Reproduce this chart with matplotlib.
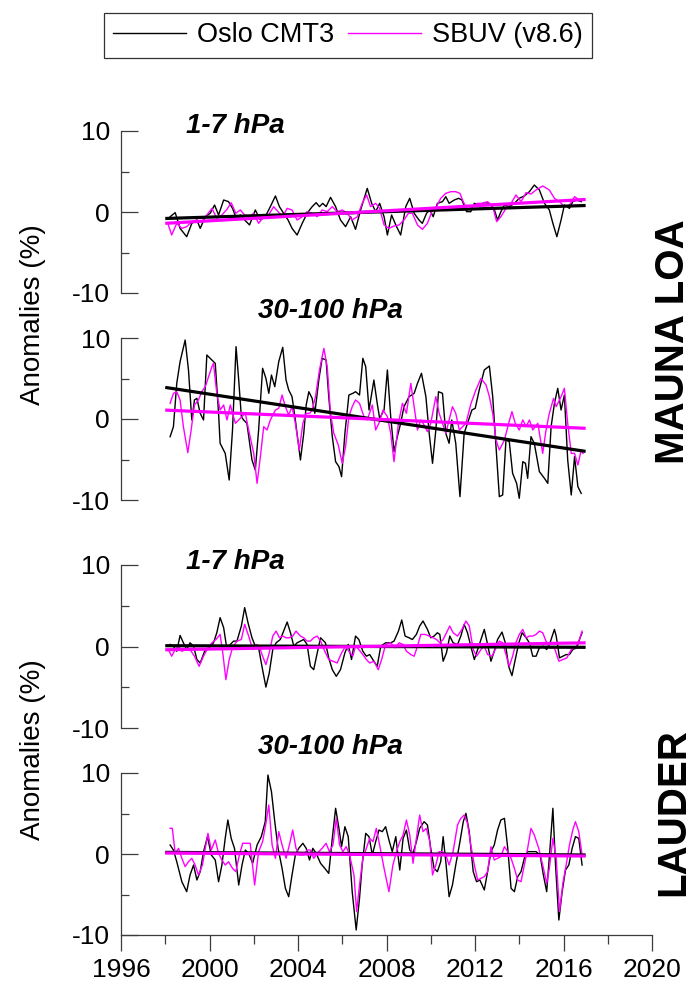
import numpy as np
import matplotlib
matplotlib.use("Agg")
from matplotlib import pyplot as plt
from matplotlib.ticker import MultipleLocator
from matplotlib.lines import Line2D

########################################################################
# data (decimal year, anomaly in %)
########################################################################

# Mauna Loa, 1-7 hPa
mlo_up_oslo_t = [1998.22, 1998.45, 1998.67, 1998.97, 1999.20, 1999.43, 1999.58, 1999.81, 2000.03, 2000.23,
                 2000.41, 2000.64, 2000.86, 2001.04, 2001.24, 2001.39, 2001.59, 2001.81, 2002.07, 2002.30,
                 2002.52, 2002.75, 2002.98, 2003.16, 2003.35, 2003.55, 2003.73, 2003.96, 2004.19, 2004.41,
                 2004.64, 2004.82, 2004.97, 2005.12, 2005.27, 2005.47, 2005.70, 2005.92, 2006.15, 2006.38,
                 2006.60, 2006.83, 2007.13, 2007.33, 2007.51, 2007.69, 2007.89, 2008.04, 2008.23, 2008.42,
                 2008.64, 2008.87, 2009.05, 2009.25, 2009.47, 2009.62, 2009.81, 2009.96, 2010.11, 2010.30,
                 2010.53, 2010.68, 2010.83, 2011.06, 2011.26, 2011.41, 2011.62, 2011.81, 2011.97, 2012.19,
                 2012.42, 2012.65, 2012.87, 2013.02, 2013.17, 2013.33, 2013.55, 2013.78, 2014.00, 2014.23,
                 2014.46, 2014.68, 2014.91, 2015.14, 2015.36, 2015.52, 2015.70, 2015.89, 2016.04, 2016.27,
                 2016.42, 2016.60, 2016.80]
mlo_up_oslo_v = [-0.58, -0.08, -2.02, -3.05, -1.40, -0.99, -2.02, -0.58, -0.16, 0.86,
                 -0.37, 1.48, 1.28, 0.45, -0.99, -0.37, -0.99, -1.60, 0.25, -0.99,
                 -0.58, 0.66, 1.98, 0.66, -0.16, -0.99, -2.02, -2.84, -1.40, -0.16,
                 0.66, 1.15, 0.66, 1.07, 0.66, 1.81, 0.66, -0.99, -1.81, -0.58,
                 -2.14, 0.25, 2.92, 1.07, 0.04, 1.07, -0.58, -2.84, -0.37, -1.60,
                 -2.84, 0.66, 1.69, -0.16, -0.99, -1.40, -0.16, 0.25, -0.58, 1.07,
                 1.28, 1.89, 1.07, 1.48, 1.69, 1.48, 0.04, 0.04, 1.07, 0.86,
                 1.15, 1.07, 0.33, -0.99, 0.04, 0.86, 0.66, 1.07, 1.69, 1.98,
                 2.51, 3.33, 2.72, 1.07, 0.25, -1.40, -3.05, -0.99, 0.86, 0.45,
                 1.28, 1.48, 1.28]
mlo_up_sbuv_t = [1998.14, 1998.29, 1998.52, 1998.75, 1998.97, 1999.20, 1999.43, 1999.65, 1999.88, 2000.11,
                 2000.33, 2000.56, 2000.79, 2000.98, 2001.19, 2001.39, 2001.59, 2001.80, 2001.99, 2002.22,
                 2002.45, 2002.67, 2002.90, 2003.10, 2003.31, 2003.51, 2003.73, 2003.96, 2004.19, 2004.41,
                 2004.64, 2004.87, 2005.09, 2005.32, 2005.55, 2005.77, 2006.00, 2006.23, 2006.45, 2006.68,
                 2006.90, 2007.10, 2007.28, 2007.51, 2007.69, 2007.89, 2008.11, 2008.34, 2008.57, 2008.79,
                 2008.99, 2009.17, 2009.40, 2009.62, 2009.85, 2010.05, 2010.26, 2010.45, 2010.68, 2010.91,
                 2011.13, 2011.32, 2011.47, 2011.66, 2011.89, 2012.12, 2012.34, 2012.57, 2012.80, 2012.98,
                 2013.17, 2013.40, 2013.63, 2013.85, 2014.08, 2014.31, 2014.53, 2014.76, 2015.06, 2015.36,
                 2015.59, 2015.82, 2016.04, 2016.27, 2016.50, 2016.72, 2016.95]
mlo_up_sbuv_v = [-1.60, -2.84, -1.40, -2.02, -1.81, -1.19, -0.99, -1.19, -0.37, 0.45,
                 -0.78, -0.37, 0.33, 1.15, -0.16, 0.25, -0.37, -0.58, -0.16, -1.40,
                 -0.58, -0.37, 0.66, 0.04, -0.58, 0.45, 0.25, -0.99, -0.58, 0.04,
                 -0.16, -0.58, 0.25, 0.04, 0.66, 0.04, 0.25, -0.16, -0.99, -0.58,
                 1.07, 2.10, 0.66, 1.07, 0.45, -1.60, -2.02, -1.73, -1.60, -0.99,
                 -0.16, -0.16, -1.60, -2.14, -1.40, 0.04, 0.66, 1.69, 2.30, 2.51,
                 2.51, 2.30, 1.28, 0.25, 0.66, 1.07, 1.07, 1.28, 0.66, -1.19,
                 -0.58, 0.45, 1.07, 2.10, 1.28, 2.39, 2.22, 2.72, 3.21, 2.72,
                 1.69, 1.28, 0.66, 0.86, 1.89, 1.48, 1.56]

# Mauna Loa, 30-100 hPa
mlo_lo_oslo_t = [1998.22, 1998.37, 1998.52, 1998.67, 1998.90, 1999.05, 1999.20, 1999.32, 1999.43, 1999.58,
                 1999.73, 1999.88, 2000.03, 2000.26, 2000.41, 2000.48, 2000.71, 2000.89, 2001.04, 2001.20,
                 2001.32, 2001.44, 2001.54, 2001.69, 2001.92, 2002.07, 2002.22, 2002.40, 2002.55, 2002.68,
                 2002.80, 2002.95, 2003.13, 2003.31, 2003.46, 2003.58, 2003.73, 2003.88, 2004.11, 2004.26,
                 2004.37, 2004.49, 2004.64, 2004.76, 2004.94, 2005.09, 2005.27, 2005.39, 2005.55, 2005.70,
                 2005.85, 2005.97, 2006.12, 2006.30, 2006.48, 2006.60, 2006.78, 2006.93, 2007.06, 2007.21,
                 2007.43, 2007.58, 2007.69, 2007.89, 2008.04, 2008.19, 2008.34, 2008.49, 2008.64, 2008.79,
                 2009.02, 2009.25, 2009.40, 2009.58, 2009.78, 2009.93, 2010.08, 2010.23, 2010.35, 2010.53,
                 2010.68, 2010.83, 2010.95, 2011.13, 2011.32, 2011.51, 2011.66, 2011.86, 2012.01, 2012.19,
                 2012.42, 2012.65, 2012.80, 2012.95, 2013.10, 2013.25, 2013.40, 2013.55, 2013.70, 2013.88,
                 2014.00, 2014.16, 2014.28, 2014.38, 2014.53, 2014.68, 2014.91, 2015.14, 2015.29, 2015.44,
                 2015.59, 2015.74, 2015.89, 2016.04, 2016.19, 2016.35, 2016.50, 2016.65, 2016.80]
mlo_lo_oslo_v = [-2.18, -0.95, 4.40, 7.08, 9.75, 6.05, -0.12, 2.35, 2.55, 0.70,
                 -0.12, 7.90, 7.49, 6.87, 0.70, -3.00, -4.24, -7.53, -1.36, 8.93,
                 4.81, 0.29, -0.12, -0.53, -5.06, -6.30, -1.36, 6.26, 5.02, 3.17,
                 5.43, 3.99, 7.08, 8.85, 4.81, 3.58, 2.76, -0.12, -5.06, -1.77,
                 1.73, 3.37, 2.55, 0.70, 4.81, 7.49, 7.28, 2.76, -2.18, -5.27,
                 -5.88, -7.12, -1.77, 2.96, 3.17, 3.37, 2.96, 7.49, 6.46, 1.11,
                 4.81, 1.93, 0.08, 1.11, 6.05, 0.29, -4.03, -2.18, -0.53, 1.52,
                 2.76, 3.17, 4.40, 5.64, 2.76, -1.77, -5.47, -1.36, 3.37, 3.17,
                 -1.77, -3.00, -0.12, -3.00, -9.59, -1.77, -0.53, 1.11, 1.32, 3.58,
                 6.05, 6.54, 2.76, -3.42, -9.59, -9.38, -2.59, -2.80, -6.71, -7.94,
                 -9.79, -5.27, -5.47, -7.33, -2.18, -3.00, -6.50, -7.33, -7.94, -0.95,
                 1.93, 3.79, 1.11, 2.96, -5.06, -9.38, -4.65, -8.35, -9.18]
mlo_lo_sbuv_t = [1998.22, 1998.37, 1998.52, 1998.67, 1998.82, 1999.02, 1999.17, 1999.32, 1999.50, 1999.65,
                 1999.81, 1999.96, 2000.11, 2000.18, 2000.33, 2000.48, 2000.64, 2000.79, 2000.94, 2001.17,
                 2001.39, 2001.62, 2001.77, 2002.00, 2002.15, 2002.30, 2002.45, 2002.60, 2002.75, 2002.98,
                 2003.13, 2003.28, 2003.43, 2003.58, 2003.73, 2003.88, 2004.06, 2004.22, 2004.37, 2004.52,
                 2004.64, 2004.79, 2004.97, 2005.17, 2005.32, 2005.47, 2005.62, 2005.82, 2006.00, 2006.15,
                 2006.30, 2006.45, 2006.60, 2006.78, 2006.98, 2007.13, 2007.36, 2007.51, 2007.69, 2007.84,
                 2008.04, 2008.19, 2008.34, 2008.54, 2008.72, 2008.90, 2009.10, 2009.25, 2009.40, 2009.55,
                 2009.70, 2009.85, 2010.00, 2010.23, 2010.38, 2010.53, 2010.68, 2010.83, 2010.98, 2011.13,
                 2011.29, 2011.44, 2011.59, 2011.82, 2012.04, 2012.27, 2012.50, 2012.65, 2012.80, 2012.95,
                 2013.10, 2013.33, 2013.52, 2013.67, 2013.82, 2014.00, 2014.16, 2014.31, 2014.46, 2014.61,
                 2014.84, 2015.06, 2015.21, 2015.36, 2015.55, 2015.67, 2015.89, 2016.04, 2016.19, 2016.35,
                 2016.50, 2016.65, 2016.80, 2016.88]
mlo_lo_sbuv_v = [1.93, 3.17, 3.37, 2.35, -0.95, -4.16, -1.36, 1.73, 2.35, 3.37,
                 3.99, 5.23, 6.46, 6.87, 3.17, 1.11, 1.73, -0.12, 1.73, -0.53,
                 0.08, 0.70, -1.36, -4.24, -7.94, -4.65, -0.95, -1.36, -0.12, 1.11,
                 1.32, 2.96, 1.52, 0.49, 1.52, -0.53, -3.83, -0.53, 0.70, 0.70,
                 1.11, 2.76, 6.05, 8.72, 6.46, 0.70, -1.77, -3.21, -5.47, -3.42,
                 0.29, 1.52, 2.35, 1.93, 0.29, -0.12, 1.73, -1.36, -0.33, 1.11,
                 0.29, -1.77, -5.27, -0.53, 1.93, 0.70, 4.40, 1.52, -1.36, -0.12,
                 -0.74, -1.56, -0.53, 2.76, 0.70, -0.53, -1.77, -0.12, 1.52, 0.70,
                 -1.36, -0.95, -0.53, 1.93, 3.58, 5.02, 4.20, 2.76, 0.70, -2.59,
                 -3.83, -2.59, -0.53, 0.91, -0.53, -1.36, -0.12, -0.95, -0.12, -1.36,
                 -0.53, -4.24, -1.36, 0.70, 2.55, 1.52, 2.76, 3.79, -0.53, -4.24,
                 -4.24, -5.68, -3.83, -4.24]

# Lauder, 1-7 hPa
lau_up_oslo_t = [1998.22, 1998.37, 1998.52, 1998.67, 1998.82, 1998.97, 1999.12, 1999.28, 1999.43, 1999.58,
                 1999.78, 1999.99, 2000.18, 2000.33, 2000.48, 2000.64, 2000.79, 2000.94, 2001.09, 2001.24,
                 2001.44, 2001.59, 2001.74, 2001.92, 2002.07, 2002.22, 2002.37, 2002.55, 2002.70, 2002.86,
                 2003.01, 2003.20, 2003.35, 2003.51, 2003.66, 2003.81, 2003.96, 2004.11, 2004.26, 2004.41,
                 2004.56, 2004.71, 2004.87, 2005.02, 2005.24, 2005.39, 2005.55, 2005.73, 2005.92, 2006.12,
                 2006.27, 2006.42, 2006.60, 2006.75, 2006.93, 2007.09, 2007.24, 2007.43, 2007.58, 2007.74,
                 2007.96, 2008.19, 2008.34, 2008.54, 2008.69, 2008.84, 2009.02, 2009.17, 2009.35, 2009.50,
                 2009.65, 2009.85, 2010.00, 2010.15, 2010.30, 2010.41, 2010.56, 2010.71, 2010.86, 2011.01,
                 2011.21, 2011.36, 2011.51, 2011.66, 2011.81, 2011.97, 2012.12, 2012.27, 2012.42, 2012.57,
                 2012.72, 2012.87, 2013.02, 2013.22, 2013.37, 2013.52, 2013.67, 2013.82, 2013.98, 2014.13,
                 2014.31, 2014.46, 2014.61, 2014.76, 2014.91, 2015.09, 2015.24, 2015.39, 2015.59, 2015.67,
                 2015.82, 2015.97, 2016.12, 2016.27, 2016.42, 2016.60, 2016.75, 2016.84]
lau_up_oslo_v = [0.25, 0.04, -0.58, 1.36, 0.45, -0.37, 0.45, 0.04, -1.60, -2.02,
                 -0.58, -0.16, 0.45, 1.69, 3.54, 2.30, -0.37, 0.25, 0.66, 0.66,
                 2.51, 4.77, 2.92, 1.07, 0.04, -0.16, -2.43, -4.98, -3.25, -0.37,
                 0.45, 0.86, 1.89, 3.00, 1.69, 0.04, 0.45, 0.66, 0.86, 0.25,
                 -2.43, -2.84, -0.78, 1.07, 0.45, -1.40, -2.84, -3.66, -2.84, -0.78,
                 0.25, -1.60, 1.28, 0.86, -0.58, -1.19, -0.99, -1.81, -2.43, 0.04,
                 0.45, 0.45, 0.66, 1.89, 3.25, 1.28, 1.07, 0.86, 1.48, 2.51,
                 3.13, 2.10, 1.07, 1.28, 1.69, 1.48, -1.81, -0.78, 1.28, 0.45,
                 0.25, 1.28, 2.72, 1.69, 0.04, -1.60, -0.37, 0.86, 2.10, 0.25,
                 -1.81, -0.58, 0.86, 1.77, 0.45, -2.43, -3.58, -1.60, 0.45, 1.69,
                 1.07, 0.45, -1.19, -1.19, -0.16, 0.04, -0.37, 0.45, 2.10, 1.28,
                 -1.40, -1.19, -0.99, -0.99, -0.37, -0.16, 1.07, 1.69]
lau_up_sbuv_t = [1998.14, 1998.29, 1998.45, 1998.60, 1998.75, 1998.93, 1999.12, 1999.32, 1999.53, 1999.73,
                 1999.93, 2000.11, 2000.29, 2000.48, 2000.60, 2000.74, 2000.89, 2001.04, 2001.24, 2001.44,
                 2001.59, 2001.77, 2001.95, 2002.10, 2002.25, 2002.40, 2002.55, 2002.70, 2002.86, 2003.01,
                 2003.16, 2003.31, 2003.46, 2003.61, 2003.76, 2003.91, 2004.11, 2004.26, 2004.41, 2004.56,
                 2004.71, 2004.87, 2005.02, 2005.21, 2005.39, 2005.58, 2005.77, 2005.97, 2006.15, 2006.30,
                 2006.48, 2006.60, 2006.75, 2006.93, 2007.09, 2007.24, 2007.43, 2007.63, 2007.78, 2007.96,
                 2008.19, 2008.39, 2008.57, 2008.75, 2008.90, 2009.10, 2009.25, 2009.40, 2009.55, 2009.75,
                 2009.93, 2010.11, 2010.26, 2010.41, 2010.56, 2010.71, 2010.86, 2011.01, 2011.21, 2011.41,
                 2011.59, 2011.74, 2011.92, 2012.07, 2012.27, 2012.42, 2012.57, 2012.77, 2012.95, 2013.10,
                 2013.25, 2013.40, 2013.55, 2013.70, 2013.85, 2014.00, 2014.16, 2014.31, 2014.46, 2014.61,
                 2014.76, 2014.91, 2015.06, 2015.21, 2015.39, 2015.59, 2015.79, 2015.97, 2016.15, 2016.35,
                 2016.54, 2016.72, 2016.84]
lau_up_sbuv_v = [-0.37, -1.19, -0.37, 0.04, -0.58, -0.37, -0.37, -1.19, -2.43, -1.19,
                 -0.16, 0.45, 0.86, 1.48, -0.78, -4.07, -1.60, -0.16, 0.66, 0.86,
                 2.72, 1.28, -0.37, 0.25, 0.04, -1.19, -2.22, -0.78, 1.28, 1.89,
                 1.07, 1.28, 1.07, 1.07, 1.28, 1.89, 1.28, 1.07, 0.66, 0.66,
                 1.07, 1.28, 0.66, -0.58, -1.60, -1.81, -2.02, -0.78, 0.04, -0.58,
                 -1.19, 0.04, -0.37, -0.99, -1.60, -2.02, -1.81, -2.84, -1.60, 0.25,
                 0.45, -0.16, 0.45, 0.25, -0.58, -0.99, -1.19, 0.04, 1.48, 1.48,
                 1.28, 1.07, 0.86, 0.45, 0.86, 1.69, 2.51, 1.69, 1.28, 2.10,
                 3.13, 2.51, -0.37, -1.19, -0.37, 0.04, -0.99, -1.19, -0.16, 0.66,
                 0.45, -0.99, -2.43, -1.19, 0.45, 1.48, 2.10, 1.07, 1.28, 1.28,
                 1.48, 1.89, 1.69, 0.66, -0.16, -0.16, -1.81, -1.60, -1.40, -0.37,
                 -0.16, 0.86, 1.89]

# Lauder, 30-100 hPa
lau_lo_oslo_t = [1998.22, 1998.37, 1998.52, 1998.75, 1998.97, 1999.12, 1999.28, 1999.43, 1999.58, 1999.73,
                 1999.91, 2000.08, 2000.26, 2000.41, 2000.56, 2000.71, 2000.83, 2000.98, 2001.13, 2001.32,
                 2001.47, 2001.62, 2001.77, 2001.95, 2002.15, 2002.34, 2002.52, 2002.64, 2002.80, 2002.95,
                 2003.10, 2003.28, 2003.43, 2003.58, 2003.73, 2003.88, 2004.03, 2004.22, 2004.37, 2004.52,
                 2004.67, 2004.82, 2005.02, 2005.21, 2005.39, 2005.55, 2005.70, 2005.85, 2005.97, 2006.12,
                 2006.27, 2006.45, 2006.63, 2006.78, 2006.90, 2007.06, 2007.21, 2007.36, 2007.51, 2007.66,
                 2007.81, 2007.96, 2008.11, 2008.26, 2008.42, 2008.60, 2008.75, 2008.90, 2009.05, 2009.20,
                 2009.35, 2009.50, 2009.70, 2009.85, 2010.00, 2010.15, 2010.30, 2010.45, 2010.56, 2010.68,
                 2010.83, 2010.98, 2011.13, 2011.32, 2011.47, 2011.59, 2011.74, 2011.92, 2012.07, 2012.22,
                 2012.42, 2012.57, 2012.72, 2012.87, 2013.02, 2013.17, 2013.33, 2013.48, 2013.63, 2013.78,
                 2013.93, 2014.08, 2014.23, 2014.38, 2014.53, 2014.76, 2014.94, 2015.09, 2015.24, 2015.39,
                 2015.52, 2015.64, 2015.79, 2015.94, 2016.09, 2016.24, 2016.39, 2016.54, 2016.69, 2016.84]
lau_lo_oslo_v = [1.11, 0.49, -0.95, -3.42, -4.65, -2.59, -1.36, -3.21, -2.18, 0.29,
                 2.14, -0.12, -0.74, -3.42, -1.36, 1.93, 4.20, 1.93, 0.70, -3.83,
                 -1.36, 0.49, 0.08, -1.15, 1.11, 2.14, 3.99, 9.75, 7.70, 3.99,
                 0.70, -1.77, -4.24, -5.27, -2.59, -0.12, 0.70, 1.32, 0.70, -0.74,
                 0.70, 0.08, -1.15, -1.77, -2.39, 1.93, 5.64, 3.17, 0.91, 3.37,
                 2.14, -4.65, -9.38, -5.47, -1.36, 2.55, 2.14, -0.12, 1.52, 2.96,
                 2.76, 3.37, 1.73, 0.29, 2.14, -1.98, 1.93, 2.96, 0.49, 0.08,
                 1.52, 3.17, 3.99, 3.58, 0.70, -1.77, -2.18, -0.95, 2.14, -0.95,
                 -5.27, -3.83, -1.36, 1.52, 3.99, 5.02, 2.76, -2.18, -3.42, -3.21,
                 -4.44, -2.18, 0.29, 1.11, 2.96, 4.20, 4.40, 0.70, -4.24, -4.65,
                 -2.80, -2.18, -0.53, 0.29, 0.29, 0.29, -0.12, -2.59, -4.65, 0.70,
                 5.64, -1.36, -8.15, -4.65, -1.98, -1.36, 0.70, 2.14, 1.93, -1.36]
lau_lo_sbuv_t = [1998.22, 1998.32, 1998.45, 1998.60, 1998.75, 1998.90, 1999.05, 1999.20, 1999.35, 1999.50,
                 1999.68, 1999.81, 1999.93, 2000.08, 2000.26, 2000.41, 2000.56, 2000.71, 2000.86, 2001.04,
                 2001.19, 2001.35, 2001.50, 2001.69, 2001.84, 2002.04, 2002.22, 2002.40, 2002.55, 2002.68,
                 2002.83, 2002.98, 2003.13, 2003.28, 2003.46, 2003.61, 2003.76, 2003.91, 2004.06, 2004.26,
                 2004.41, 2004.56, 2004.71, 2004.94, 2005.09, 2005.27, 2005.42, 2005.58, 2005.73, 2005.88,
                 2006.03, 2006.18, 2006.33, 2006.53, 2006.65, 2006.78, 2006.93, 2007.09, 2007.24, 2007.39,
                 2007.54, 2007.69, 2007.89, 2008.11, 2008.29, 2008.45, 2008.60, 2008.75, 2008.90, 2009.05,
                 2009.20, 2009.35, 2009.50, 2009.65, 2009.80, 2009.96, 2010.08, 2010.23, 2010.38, 2010.53,
                 2010.68, 2010.83, 2011.01, 2011.21, 2011.36, 2011.51, 2011.66, 2011.81, 2011.97, 2012.12,
                 2012.27, 2012.42, 2012.57, 2012.72, 2012.87, 2013.02, 2013.17, 2013.33, 2013.48, 2013.63,
                 2013.78, 2013.93, 2014.08, 2014.23, 2014.38, 2014.53, 2014.68, 2014.88, 2015.06, 2015.24,
                 2015.36, 2015.52, 2015.67, 2015.82, 2015.97, 2016.12, 2016.27, 2016.42, 2016.54, 2016.69,
                 2016.84]
lau_lo_sbuv_v = [3.17, 3.17, 0.08, 0.70, -0.53, -1.56, -0.95, -0.53, -1.36, -2.59,
                 -1.36, 0.70, 2.55, 0.49, 1.73, 0.08, -0.74, -1.36, -0.95, -1.77,
                 -2.18, -0.12, 1.32, 1.32, 1.32, -3.83, 0.29, 1.52, 3.79, 6.05,
                 1.11, -0.53, 2.76, 1.11, -0.53, 1.11, 2.96, 0.70, -0.12, -0.12,
                 0.49, 0.49, -0.53, 0.29, 0.70, 1.32, 0.29, 1.11, 4.40, 1.11,
                 0.29, 0.91, -0.12, -2.59, -7.12, -3.83, -0.53, 0.70, 1.93, 1.52,
                 3.17, 1.11, -1.77, -4.65, -1.36, 0.29, 1.52, 2.35, 4.20, 2.35,
                 -1.15, 1.93, 4.81, 2.76, 3.17, 1.52, -2.59, -1.36, 0.29, 0.29,
                 -0.12, -1.36, 0.29, 3.58, 4.40, 4.81, 3.79, 1.11, -1.36, -3.21,
                 -3.00, -2.80, -2.18, 0.91, -0.74, -0.53, -0.33, 0.91, 0.29, -0.53,
                 -1.77, -3.21, -3.42, -1.36, 0.70, 3.17, 2.35, 0.70, -1.36, -3.62,
                 -1.77, 1.93, -0.53, -7.12, -3.62, -1.36, 1.11, 2.96, 3.99, 2.76,
                 -0.12]

# linear trends, value at start and end of the trend period
trend_years = [1998.0, 2017.0]
mlo_up_trend_oslo = [-0.80, 0.80]
mlo_up_trend_sbuv = [-1.40, 1.55]
mlo_lo_trend_oslo = [3.90, -4.00]
mlo_lo_trend_sbuv = [1.10, -1.15]
lau_up_trend_oslo = [0.10, -0.10]
lau_up_trend_sbuv = [-0.40, 0.45]
lau_lo_trend_oslo = [0.20, -0.12]
lau_lo_trend_sbuv = [0.12, -0.25]

panel_titles = ["1-7 hPa", "30-100 hPa", "1-7 hPa", "30-100 hPa"]
station_names = ["MAUNA LOA", "LAUDER"]
series_names = ["Oslo CMT3", "SBUV (v8.6)"]
x_ticks = [1996, 2000, 2004, 2008, 2012, 2016, 2020]
y_ticks = [-10, 0, 10]

########################################################################
# figure
########################################################################

plt.rcParams["font.family"] = ["Liberation Sans", "DejaVu Sans"]
plt.rcParams["axes.unicode_minus"] = False

W, H = 693.0, 989.0
fig = plt.figure(figsize=(W / 100, H / 100), dpi=100, facecolor="w")

OSLO_C = "black"
SBUV_C = "#ff00ff"
AX_C = "#3c3c3c"


def px_axes(x0, y0, x1, y1):
    # pixel box (top-left origin) -> figure fraction
    return fig.add_axes([x0 / W, 1 - y1 / H, (x1 - x0) / W, (y1 - y0) / H])


panels = [
    (131, 293, mlo_up_oslo_t, mlo_up_oslo_v, mlo_up_sbuv_t, mlo_up_sbuv_v, mlo_up_trend_oslo, mlo_up_trend_sbuv),
    (338, 500, mlo_lo_oslo_t, mlo_lo_oslo_v, mlo_lo_sbuv_t, mlo_lo_sbuv_v, mlo_lo_trend_oslo, mlo_lo_trend_sbuv),
    (565, 728, lau_up_oslo_t, lau_up_oslo_v, lau_up_sbuv_t, lau_up_sbuv_v, lau_up_trend_oslo, lau_up_trend_sbuv),
    (773, 935, lau_lo_oslo_t, lau_lo_oslo_v, lau_lo_sbuv_t, lau_lo_sbuv_v, lau_lo_trend_oslo, lau_lo_trend_sbuv),
]

for i, (ytop, ybot, ot, ov, st, sv, otr, strr) in enumerate(panels):
    ax = px_axes(121, ytop, 652, ybot)
    ax.patch.set_alpha(0)
    ax.plot(ot, ov, color=OSLO_C, lw=1.0, zorder=2)
    ax.plot(st, sv, color=SBUV_C, lw=1.0, zorder=3)
    ax.plot(trend_years, otr, color=OSLO_C, lw=2.3, zorder=4, solid_capstyle="butt")
    ax.plot(trend_years, strr, color=SBUV_C, lw=2.3, zorder=5, solid_capstyle="butt")
    ax.set_xlim(1996, 2020)
    ax.set_ylim(-10, 10)

    for s in ["top", "right"]:
        ax.spines[s].set_visible(False)
    ax.spines["left"].set_color(AX_C)
    ax.spines["left"].set_linewidth(0.9)

    ax.yaxis.set_major_locator(plt.FixedLocator(y_ticks))
    ax.yaxis.set_minor_locator(MultipleLocator(5))
    ax.tick_params(axis="y", which="major", direction="in", length=12, width=0.9,
                   color=AX_C, labelsize=19, pad=8)
    ax.tick_params(axis="y", which="minor", direction="in", length=6, width=0.9, color=AX_C)

    if i < 3:
        ax.spines["bottom"].set_visible(False)
        ax.set_xticks([])
        ax.xaxis.set_minor_locator(plt.NullLocator())
    else:
        ax.spines["bottom"].set_color(AX_C)
        ax.spines["bottom"].set_linewidth(0.9)
        ax.xaxis.set_major_locator(plt.FixedLocator(x_ticks))
        ax.xaxis.set_minor_locator(MultipleLocator(2))
        ax.tick_params(axis="x", which="major", direction="out", length=11.5, width=0.9,
                       color=AX_C, labelsize=19, pad=5)
        ax.tick_params(axis="x", which="minor", direction="out", length=6.5, width=0.9, color=AX_C)

# panel titles
title_pos = [(235, 126), (330, 311), (235, 562), (330, 747)]
for txt, (xp, yp) in zip(panel_titles, title_pos):
    fig.text(xp / W, 1 - yp / H, txt, fontsize=20, fontweight="bold", fontstyle="italic",
             ha="center", va="center")

# y labels and station names
for yc in [315, 750]:
    fig.text(33 / W, 1 - yc / H, "Anomalies (%)", fontsize=20, rotation=90,
             ha="center", va="center")
fig.text(673 / W, 1 - 342 / H, station_names[0], fontsize=29, fontweight="bold",
         rotation=90, ha="center", va="center")
fig.text(673 / W, 1 - 812 / H, station_names[1], fontsize=29, fontweight="bold",
         rotation=90, ha="center", va="center")

# legend
handles = [Line2D([], [], color=OSLO_C, lw=1.0), Line2D([], [], color=SBUV_C, lw=1.0)]
leg = fig.legend(handles, series_names, loc="center", bbox_to_anchor=(348 / W, 1 - 35.5 / H),
                 ncol=2, fontsize=19.5, frameon=True, fancybox=False, edgecolor="black",
                 handlelength=2.7, handletextpad=0.4, columnspacing=0.5, borderpad=0.35)
leg.get_frame().set_linewidth(0.9)

fig.savefig("out.png", dpi=100)
